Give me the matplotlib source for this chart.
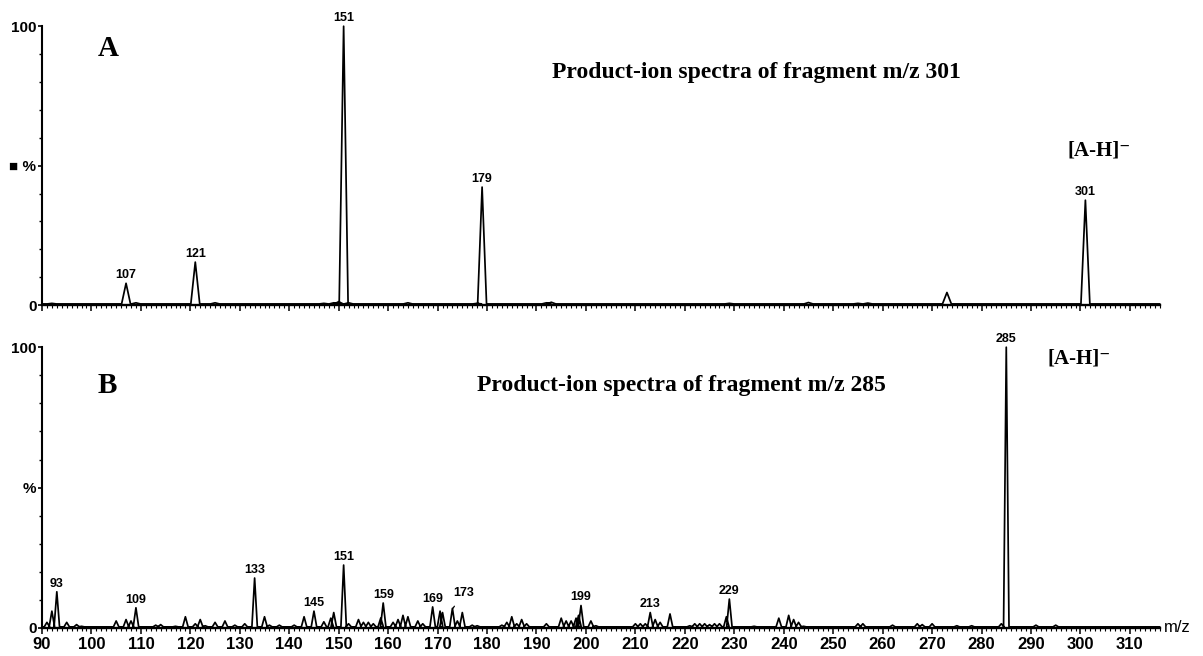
import matplotlib
matplotlib.use("Agg")
import matplotlib.pyplot as plt
from matplotlib.ticker import MultipleLocator, FixedLocator


# spectrum A: product ions of m/z 301 (peak centre, relative intensity %)
A_MZ = [92, 107, 109, 112, 121, 125, 135, 143, 147, 149, 150, 151, 152,
        164, 178, 179, 192, 193, 229, 245, 255, 257, 273, 301]
A_INT = [0.6, 7.8, 0.8, 0.4, 15.4, 0.8, 0.4, 0.4, 0.6, 0.8, 1.2, 100, 0.8,
         0.8, 0.6, 42.3, 0.8, 1.0, 0.6, 0.9, 0.6, 0.7, 4.5, 37.6]
A_LABELS = [107, 121, 151, 179, 301]

# spectrum B: product ions of m/z 285
B_MZ = [91, 92, 93, 95, 97, 98, 105, 107, 108, 109, 113, 114, 117, 119, 121,
        122, 123, 125, 127, 129, 131, 133, 135, 136, 138, 141, 143, 145, 147,
        148.4, 149, 151, 152, 154, 155, 156, 157, 158.5, 159, 161, 162, 163,
        164, 166, 167, 169, 170.5, 171, 173, 174, 175, 177, 178, 183, 184,
        185, 186, 187, 188, 192, 195, 196, 197, 198, 198.5, 199, 201, 202,
        210, 211, 212, 213, 214, 215, 217, 221, 222, 223, 224, 225, 226, 227,
        228.4, 229, 234, 239, 241, 242, 243, 244, 255, 256, 262, 267, 268,
        270, 275, 278, 284, 285, 291, 295]
B_INT = [2, 6, 12.9, 2, 1.2, 0.6, 2.5, 3, 2.5, 7.2, 1, 1.2, 0.6, 4, 1.5,
         3, 0.8, 2, 2.5, 1, 1.5, 17.8, 4, 1, 1, 1, 4, 6, 2.2,
         3.5, 5.5, 22.4, 1.5, 3, 2, 2, 1.5, 3.5, 8.9, 2, 3, 4.5,
         4, 2.5, 1.5, 7.5, 6, 5.5, 7, 2.5, 5.5, 1, 0.8, 1, 2,
         4, 1.5, 3, 1.5, 1.5, 3.5, 2.5, 2.5, 3.5, 4.5, 8, 2.5, 0.8,
         1.5, 1.5, 1.5, 5.5, 3, 2, 5, 0.8, 1.5, 1.5, 1.5, 1.2, 1.5, 1.5,
         4, 10.3, 0.6, 3.5, 4.5, 3, 2, 0.6, 1.5, 1.5, 1, 1.5, 1.2,
         1.5, 0.8, 0.8, 1.5, 100, 1, 1]
B_LABELS = [93, 109, 133, 145, 151, 159, 169, 199, 213, 229, 285]

XMIN, XMAX = 90, 316
SERIF = ["Liberation Serif", "DejaVu Serif"]
SANS = ["Liberation Sans", "DejaVu Sans"]


def profile(mz, inten, hw=0.6, base=0.4):
    xs, ys = [XMIN, ], [base]
    for m, h in zip(mz, inten):
        xs += [m - hw, m, m + hw]
        ys += [base, h, base]
    xs.append(XMAX)
    ys.append(base)
    return xs, ys


def style_axes(ax, pct_label, show_x):
    ax.set_xlim(XMIN, XMAX)
    ax.set_ylim(0, 100)
    for s in ["top", "right"]:
        ax.spines[s].set_visible(False)
    ax.spines["left"].set_linewidth(1.5)
    ax.spines["bottom"].set_linewidth(1.7)
    ax.yaxis.set_major_locator(FixedLocator([0, 50, 100]))
    ax.set_yticklabels(["0", pct_label, "100"], fontfamily=SANS,
                       fontsize=11, fontweight="bold")
    ax.yaxis.set_minor_locator(MultipleLocator(10))
    ax.tick_params(axis="y", which="major", length=3, width=1.2, pad=1)
    ax.tick_params(axis="y", which="minor", length=2.5, width=1)
    ax.xaxis.set_major_locator(MultipleLocator(10))
    ax.xaxis.set_minor_locator(MultipleLocator(1))
    ax.tick_params(axis="x", which="major", length=4.5, width=1.1, pad=2)
    ax.tick_params(axis="x", which="minor", length=2.2, width=0.8)
    if show_x:
        for lab in ax.get_xticklabels():
            lab.set_fontfamily(SANS)
            lab.set_fontsize(12)
            lab.set_fontweight("bold")
        ax.text(1.004, 0, "m/z", transform=ax.transAxes, ha="left",
                va="center", fontfamily=SANS, fontsize=12)
    else:
        ax.set_xticklabels([])


def label_peaks(ax, mz, inten, labels):
    for lab in labels:
        i = mz.index(lab)
        ax.annotate(str(lab), (mz[i], inten[i]), xytext=(0, 1.5),
                    textcoords="offset points", ha="center", va="bottom",
                    fontfamily=SANS, fontsize=9, fontweight="bold")


fig = plt.figure(figsize=(12.03, 6.56), dpi=100)
axA = fig.add_axes([0.0349, 0.535, 0.929, 0.425])
axB = fig.add_axes([0.0349, 0.0427, 0.929, 0.428])

x, y = profile(A_MZ, A_INT, hw=0.9)
axA.plot(x, y, color="black", lw=1.25, clip_on=False)
style_axes(axA, "■ %", False)
label_peaks(axA, A_MZ, A_INT, A_LABELS)
axA.text(0.059, 0.921, "A", transform=axA.transAxes, ha="center", va="center",
         fontfamily=SERIF, fontsize=21, fontweight="bold")
axA.text(0.639, 0.835, "Product-ion spectra of fragment m/z 301",
         transform=axA.transAxes, ha="center", va="center",
         fontfamily=SERIF, fontsize=17, fontweight="bold")
axA.text(0.946, 0.556, "[A-H]⁻", transform=axA.transAxes, ha="center",
         va="center", fontfamily=SERIF, fontsize=15, fontweight="bold")

x, y = profile(B_MZ, B_INT, hw=0.55)
axB.plot(x, y, color="black", lw=1.25, clip_on=False)
style_axes(axB, "%", True)
label_peaks(axB, B_MZ, B_INT, B_LABELS)
axB.annotate("173", (173.1, 7), xytext=(175.3, 12.5), ha="center",
             va="center", fontfamily=SANS, fontsize=9, fontweight="bold",
             arrowprops=dict(arrowstyle="-", color="black", lw=0.9,
                             shrinkA=4, shrinkB=0))
axB.text(0.058, 0.865, "B", transform=axB.transAxes, ha="center", va="center",
         fontfamily=SERIF, fontsize=21, fontweight="bold")
axB.text(0.572, 0.865, "Product-ion spectra of fragment m/z 285",
         transform=axB.transAxes, ha="center", va="center",
         fontfamily=SERIF, fontsize=17, fontweight="bold")
axB.text(0.928, 0.961, "[A-H]⁻", transform=axB.transAxes, ha="center",
         va="center", fontfamily=SERIF, fontsize=15, fontweight="bold")

fig.savefig("out.png", dpi=100)
